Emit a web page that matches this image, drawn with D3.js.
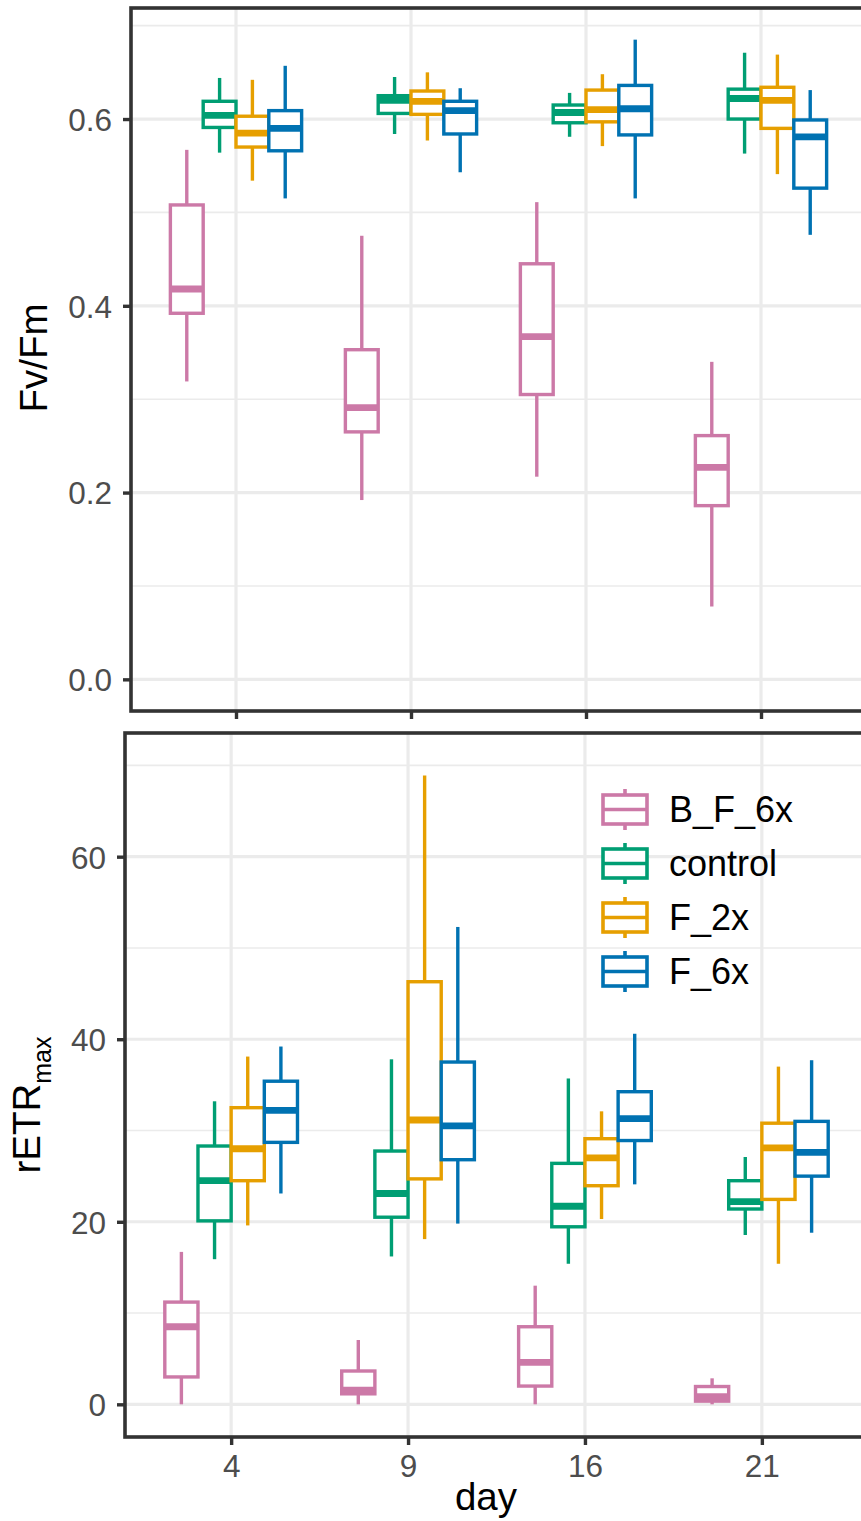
<!DOCTYPE html>
<html>
<head>
<meta charset="utf-8">
<script src="https://cdn.jsdelivr.net/npm/d3@7"></script>
<style>
  html, body { margin: 0; padding: 0; background: #ffffff; }
  svg { display: block; font-family: "Liberation Sans", Arial, Helvetica, sans-serif; }
</style>
</head>
<body>
<svg id="chart" width="861" height="1521"></svg>
<script>
// Sampling days and treatments
const days = ["4", "9", "16", "21"];
const groups = ["B_F_6x", "control", "F_2x", "F_6x"];
const groupColors = ["#CC79A7", "#009E73", "#E69F00", "#0072B2"];

// Box summaries per day, each as [ymin, lower, middle, upper, ymax]
// Fv/Fm
const fvfm_B_F_6x = [[0.319, 0.392, 0.418, 0.508, 0.567], [0.192, 0.265, 0.291, 0.353, 0.475], [0.217, 0.305, 0.367, 0.445, 0.511], [0.078, 0.186, 0.227, 0.261, 0.340]];
const fvfm_control = [[0.564, 0.591, 0.604, 0.619, 0.644], [0.584, 0.606, 0.620, 0.625, 0.645], [0.581, 0.596, 0.607, 0.615, 0.628], [0.563, 0.600, 0.622, 0.632, 0.671]];
const fvfm_F_2x = [[0.534, 0.570, 0.585, 0.603, 0.642], [0.577, 0.605, 0.619, 0.630, 0.650], [0.571, 0.597, 0.610, 0.631, 0.648], [0.541, 0.590, 0.620, 0.634, 0.669]];
const fvfm_F_6x = [[0.515, 0.566, 0.590, 0.609, 0.657], [0.543, 0.584, 0.609, 0.619, 0.633], [0.515, 0.583, 0.611, 0.636, 0.685], [0.476, 0.526, 0.581, 0.599, 0.631]];

// rETRmax
const retr_B_F_6x = [[0.0, 3.0, 8.5, 11.2, 16.7], [0.0, 1.15, 1.55, 3.65, 7.05], [0.0, 2.0, 4.6, 8.5, 13.0], [0.0, 0.35, 0.85, 1.95, 2.85]];
const retr_control = [[15.9, 20.1, 24.5, 28.3, 33.2], [16.2, 20.5, 23.1, 27.75, 37.8], [15.4, 19.45, 21.7, 26.4, 35.7], [18.55, 21.4, 22.2, 24.5, 27.1]];
const retr_F_2x = [[19.6, 24.5, 28.0, 32.5, 38.1], [18.1, 24.7, 31.15, 46.3, 68.9], [20.3, 23.95, 27.0, 29.1, 32.1], [15.4, 22.45, 28.1, 30.8, 37.0]];
const retr_F_6x = [[23.1, 28.7, 32.2, 35.4, 39.2], [19.8, 26.8, 30.5, 37.5, 52.3], [24.1, 28.9, 31.3, 34.25, 40.6], [18.8, 25.0, 27.6, 31.0, 37.7]];

// Axis ticks
const fvfmTicks = [0.0, 0.2, 0.4, 0.6];
const fvfmMinor = [0.1, 0.3, 0.5, 0.7];
const retrTicks = [0, 20, 40, 60];
const retrMinor = [10, 30, 50, 70];

function toRows(seriesList) {
  const rows = [];
  seriesList.forEach((series, gi) => {
    series.forEach((s, di) => {
      rows.push({ day: days[di], group: groups[gi], ymin: s[0], lower: s[1], middle: s[2], upper: s[3], ymax: s[4] });
    });
  });
  return rows;
}

const fvfmRows = toRows([fvfm_B_F_6x, fvfm_control, fvfm_F_2x, fvfm_F_6x]);
const retrRows = toRows([retr_B_F_6x, retr_control, retr_F_2x, retr_F_6x]);

const color = d3.scaleOrdinal().domain(groups).range(groupColors);

const svg = d3.select("#chart");
const GRID = "#EBEBEB";
const INK = "#333333";
const TICK_TEXT = "#4D4D4D";
const LINE_W = 3.4;

function drawPanel(cfg) {
  const g = svg.append("g").attr("transform", `translate(${cfg.left},${cfg.top})`);
  const x = d3.scalePoint().domain(days).range([0, cfg.width]).padding(0.6);
  const step = x.step();
  const dodge = d3.scaleBand().domain(groups).range([-0.375 * step, 0.375 * step]).padding(0);
  const y = d3.scaleLinear().domain(cfg.yDomain).range([cfg.height, 0]);

  // grid
  g.append("g").selectAll("line").data(cfg.minor).join("line")
    .attr("x1", 0).attr("x2", cfg.width)
    .attr("y1", d => y(d)).attr("y2", d => y(d))
    .attr("stroke", GRID).attr("stroke-width", 1.6);
  g.append("g").selectAll("line").data(cfg.ticks).join("line")
    .attr("x1", 0).attr("x2", cfg.width)
    .attr("y1", d => y(d)).attr("y2", d => y(d))
    .attr("stroke", GRID).attr("stroke-width", 3.2);
  g.append("g").selectAll("line").data(days).join("line")
    .attr("x1", d => x(d)).attr("x2", d => x(d))
    .attr("y1", 0).attr("y2", cfg.height)
    .attr("stroke", GRID).attr("stroke-width", 3.2);

  // boxes
  const bw = dodge.bandwidth();
  const boxes = g.append("g").selectAll("g").data(cfg.rows).join("g")
    .attr("transform", d => `translate(${x(d.day) + dodge(d.group)},0)`)
    .attr("stroke", d => color(d.group));
  boxes.append("line")
    .attr("x1", bw / 2).attr("x2", bw / 2)
    .attr("y1", d => y(d.ymax)).attr("y2", d => y(d.upper))
    .attr("stroke-width", LINE_W);
  boxes.append("line")
    .attr("x1", bw / 2).attr("x2", bw / 2)
    .attr("y1", d => y(d.lower)).attr("y2", d => y(d.ymin))
    .attr("stroke-width", LINE_W);
  boxes.append("rect")
    .attr("x", 0).attr("width", bw)
    .attr("y", d => y(d.upper)).attr("height", d => y(d.lower) - y(d.upper))
    .attr("fill", "#ffffff").attr("stroke-width", LINE_W);
  boxes.append("line")
    .attr("x1", 0).attr("x2", bw)
    .attr("y1", d => y(d.middle)).attr("y2", d => y(d.middle))
    .attr("stroke-width", LINE_W * 2);

  // border
  g.append("rect")
    .attr("x", 0).attr("y", 0).attr("width", cfg.width).attr("height", cfg.height)
    .attr("fill", "none").attr("stroke", INK).attr("stroke-width", 3.6);

  // y axis
  const yAxis = g.append("g")
    .call(d3.axisLeft(y).tickValues(cfg.ticks).tickFormat(cfg.format).tickSize(8).tickPadding(11));
  yAxis.select(".domain").remove();
  yAxis.selectAll(".tick line").attr("stroke", INK).attr("stroke-width", 3.4);
  yAxis.selectAll(".tick text")
    .attr("fill", TICK_TEXT).attr("font-size", 31.5).attr("dy", "0.36em")
    .style("font-family", "'Liberation Sans', Arial, sans-serif");

  // x axis
  const xAxis = g.append("g").attr("transform", `translate(0,${cfg.height})`)
    .call(d3.axisBottom(x).tickSize(8).tickPadding(10));
  xAxis.select(".domain").remove();
  xAxis.selectAll(".tick line").attr("stroke", INK).attr("stroke-width", 3.4);
  xAxis.selectAll(".tick text")
    .attr("fill", TICK_TEXT).attr("font-size", 31.5)
    .style("font-family", "'Liberation Sans', Arial, sans-serif");
  if (!cfg.showXLabels) xAxis.selectAll(".tick text").remove();

  return { g, x, y };
}

// Fv/Fm panel
drawPanel({
  left: 131, top: 8, width: 735, height: 703,
  yDomain: [-0.0339, 0.7189],
  ticks: fvfmTicks, minor: fvfmMinor,
  format: d3.format(".1f"),
  rows: fvfmRows, showXLabels: false
});

// rETRmax panel
drawPanel({
  left: 125, top: 733, width: 743, height: 704,
  yDomain: [-3.58, 73.55],
  ticks: retrTicks, minor: retrMinor,
  format: d3.format("d"),
  rows: retrRows, showXLabels: true
});

// axis titles
svg.append("text")
  .attr("transform", "translate(47,358) rotate(-90)")
  .attr("text-anchor", "middle").attr("font-size", 38.5).attr("fill", "#000")
  .text("Fv/Fm");

const retrTitle = svg.append("text")
  .attr("transform", "translate(40,1105) rotate(-90)")
  .attr("text-anchor", "middle").attr("font-size", 38.5).attr("fill", "#000");
retrTitle.append("tspan").text("rETR");
retrTitle.append("tspan").attr("font-size", 25).attr("dy", 11).text("max");

svg.append("text")
  .attr("x", 486).attr("y", 1510)
  .attr("text-anchor", "middle").attr("font-size", 38.5).attr("fill", "#000")
  .text("day");

// legend
const legend = svg.append("g").attr("transform", "translate(603,809.5)");
const keyW = 44, keyH = 29, rowGap = 54;
const items = legend.selectAll("g").data(groups).join("g")
  .attr("transform", (d, i) => `translate(0,${i * rowGap})`);
items.append("line")
  .attr("x1", keyW / 2).attr("x2", keyW / 2).attr("y1", -keyH / 2 - 6).attr("y2", keyH / 2 + 6)
  .attr("stroke", d => color(d)).attr("stroke-width", 3.6);
items.append("rect")
  .attr("x", 0).attr("y", -keyH / 2).attr("width", keyW).attr("height", keyH)
  .attr("fill", "#ffffff").attr("stroke", d => color(d)).attr("stroke-width", 3.6);
items.append("line")
  .attr("x1", 0).attr("x2", keyW).attr("y1", 0).attr("y2", 0)
  .attr("stroke", d => color(d)).attr("stroke-width", 3.6);
items.append("text")
  .attr("x", 66).attr("y", 12.8)
  .attr("font-size", 36).attr("fill", "#000")
  .text(d => d);
</script>
</body>
</html>
